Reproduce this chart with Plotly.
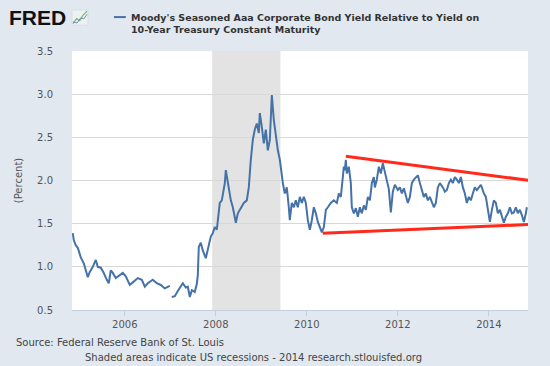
import plotly.graph_objects as go

# Decimal-year dates and spread values (percent)
years_a = [2004.857, 2004.879, 2004.923, 2004.967, 2005.033, 2005.099, 2005.143, 2005.187, 2005.231, 2005.297,
           2005.363, 2005.407, 2005.473, 2005.538, 2005.604, 2005.648, 2005.692, 2005.736, 2005.802, 2005.868,
           2005.956, 2006.022, 2006.110, 2006.176, 2006.286, 2006.374, 2006.440, 2006.505, 2006.615, 2006.703,
           2006.791, 2006.879, 2006.945, 2006.989]
vals_a = [1.39, 1.31, 1.25, 1.22, 1.11, 1.04, 0.96, 0.88, 0.94, 1.00,
          1.08, 1.00, 0.99, 0.93, 0.85, 0.81, 0.96, 0.93, 0.87, 0.90,
          0.93, 0.89, 0.79, 0.82, 0.87, 0.85, 0.77, 0.81, 0.85, 0.81,
          0.79, 0.75, 0.77, 0.78]

years_b = [2007.033, 2007.099, 2007.165, 2007.209, 2007.275, 2007.341, 2007.385, 2007.429, 2007.473, 2007.538,
           2007.582, 2007.604, 2007.626, 2007.670, 2007.714, 2007.780, 2007.824, 2007.890, 2007.934, 2007.978,
           2008.022, 2008.066, 2008.088, 2008.132, 2008.154, 2008.198, 2008.220, 2008.264, 2008.330, 2008.374,
           2008.440, 2008.484, 2008.549, 2008.615, 2008.681, 2008.725, 2008.769, 2008.813, 2008.857, 2008.901,
           2008.945, 2008.967, 2009.011, 2009.055, 2009.099, 2009.143, 2009.187, 2009.209, 2009.231, 2009.275,
           2009.319, 2009.363, 2009.407, 2009.451, 2009.473, 2009.516, 2009.560, 2009.604, 2009.626, 2009.670,
           2009.714, 2009.758, 2009.802, 2009.846, 2009.890, 2009.934, 2009.978, 2010.022, 2010.066, 2010.110,
           2010.154, 2010.198, 2010.242, 2010.286, 2010.330, 2010.374, 2010.418, 2010.462, 2010.527, 2010.593,
           2010.659, 2010.703, 2010.747, 2010.791, 2010.813, 2010.835, 2010.857, 2010.879, 2010.923, 2010.967,
           2010.989, 2011.033, 2011.077, 2011.121, 2011.165, 2011.209, 2011.253, 2011.297, 2011.341, 2011.385,
           2011.429, 2011.473, 2011.495, 2011.538, 2011.582, 2011.626, 2011.670, 2011.714, 2011.758, 2011.802,
           2011.846, 2011.890, 2011.934, 2012.000, 2012.044, 2012.088, 2012.132, 2012.176, 2012.220, 2012.264,
           2012.308, 2012.352, 2012.396, 2012.440, 2012.484, 2012.527, 2012.571, 2012.615, 2012.659, 2012.703,
           2012.747, 2012.791, 2012.835, 2012.879, 2012.923, 2012.989, 2013.033, 2013.077, 2013.121, 2013.165,
           2013.209, 2013.253, 2013.297, 2013.341, 2013.385, 2013.429, 2013.473, 2013.516, 2013.560, 2013.604,
           2013.648, 2013.692, 2013.736, 2013.780, 2013.824, 2013.846, 2013.890, 2013.934, 2013.978, 2014.022,
           2014.066, 2014.110, 2014.154, 2014.198, 2014.242, 2014.286, 2014.330, 2014.374, 2014.418, 2014.462,
           2014.505, 2014.549, 2014.593, 2014.637, 2014.681, 2014.725, 2014.769, 2014.813, 2014.835]
vals_b = [0.65, 0.66, 0.72, 0.76, 0.81, 0.76, 0.77, 0.65, 0.73, 0.71,
          0.80, 0.90, 1.23, 1.28, 1.19, 1.10, 1.19, 1.35, 1.39, 1.46,
          1.43, 1.62, 1.74, 1.77, 1.83, 1.97, 2.12, 1.97, 1.77, 1.69,
          1.51, 1.62, 1.68, 1.74, 1.77, 1.92, 2.24, 2.47, 2.59, 2.66,
          2.55, 2.78, 2.62, 2.43, 2.59, 2.35, 2.47, 2.78, 2.99, 2.70,
          2.50, 2.35, 2.24, 2.01, 1.97, 1.85, 1.92, 1.69, 1.54, 1.74,
          1.69, 1.77, 1.69, 1.81, 1.74, 1.81, 1.74, 1.54, 1.43, 1.54,
          1.69, 1.62, 1.52, 1.46, 1.40, 1.46, 1.66, 1.69, 1.74, 1.77,
          1.74, 1.85, 1.81, 2.04, 2.16, 2.12, 2.24, 2.08, 2.16, 1.97,
          1.69, 1.62, 1.68, 1.58, 1.69, 1.62, 1.71, 1.66, 1.81, 1.77,
          1.97, 2.04, 1.92, 2.01, 2.16, 2.08, 2.20, 2.10, 1.98, 1.90,
          1.63, 1.87, 1.95, 1.89, 1.92, 1.85, 1.91, 1.81, 1.74, 1.81,
          1.97, 2.01, 2.04, 2.06, 1.97, 1.89, 1.81, 1.85, 1.77, 1.81,
          1.74, 1.69, 1.74, 1.92, 1.97, 1.92, 1.87, 1.89, 1.97, 2.01,
          1.97, 2.04, 2.01, 1.97, 2.04, 1.92, 1.85, 1.74, 1.81, 1.77,
          1.85, 1.92, 1.89, 1.92, 1.95, 1.92, 1.85, 1.81, 1.66, 1.52,
          1.66, 1.77, 1.74, 1.62, 1.66, 1.58, 1.51, 1.58, 1.62, 1.69,
          1.62, 1.63, 1.69, 1.62, 1.66, 1.60, 1.52, 1.62, 1.69]

# Recession (Dec 2007 - Jun 2009)
recession = [2007.92, 2009.42]

# Hand-drawn red trend lines (start, end)
upper_x = [2010.857, 2014.90]
upper_y = [2.28, 2.00]
lower_x = [2010.35, 2014.90]
lower_y = [1.39, 1.49]

tick_years = [2006, 2008, 2010, 2012, 2014]
x_range = [2004.84, 2014.86]
y_range = [0.5, 3.5]
y_ticks = [0.5, 1.0, 1.5, 2.0, 2.5, 3.0, 3.5]

series_name = "Moody's Seasoned Aaa Corporate Bond Yield Relative to Yield on<br>10-Year Treasury Constant Maturity"

BG = "#e1e8f0"
LINE = "#4572a7"
FONT = "DejaVu Sans"

fig = go.Figure()

xs = years_a + [None] + years_b
ys = vals_a + [None] + vals_b
fig.add_trace(go.Scatter(x=xs, y=ys, mode="lines", line=dict(color=LINE, width=2),
                         connectgaps=False, showlegend=False, hoverinfo="skip"))
fig.add_trace(go.Scatter(x=upper_x, y=upper_y, mode="lines", line=dict(color="#ff2a1a", width=3),
                         showlegend=False, hoverinfo="skip"))
fig.add_trace(go.Scatter(x=lower_x, y=lower_y, mode="lines", line=dict(color="#ff2a1a", width=3),
                         showlegend=False, hoverinfo="skip"))

fig.add_shape(type="rect", xref="x", yref="paper", x0=recession[0], x1=recession[1], y0=0, y1=1,
              fillcolor="#e3e3e3", line=dict(width=0), layer="below")

# FRED logo
fig.add_annotation(xref="paper", yref="paper", x=-0.142, y=1.128, xanchor="left", yanchor="middle",
                   text="<b>FRED</b>", showarrow=False,
                   font=dict(family="Liberation Sans", size=21, color="#111111"))
# small icon next to logo
fig.add_shape(type="rect", xref="paper", yref="paper", x0=0.0, x1=0.035, y0=1.100, y1=1.158,
              fillcolor="#eef1f4", line=dict(color="#c9d0d8", width=0.5))
fig.add_shape(type="path", xref="paper", yref="paper",
              path="M 0.002 1.106 L 0.010 1.125 L 0.017 1.117 L 0.024 1.138 L 0.033 1.154",
              line=dict(color="#7bb661", width=1.2))
fig.add_shape(type="path", xref="paper", yref="paper",
              path="M 0.002 1.112 L 0.011 1.108 L 0.019 1.128 L 0.026 1.124 L 0.033 1.142",
              line=dict(color="#6d8fc0", width=1))

# legend-like header
fig.add_shape(type="line", xref="paper", yref="paper", x0=0.092, x1=0.118, y0=1.131, y1=1.131,
              line=dict(color=LINE, width=2))
fig.add_annotation(xref="paper", yref="paper", x=0.125, y=1.108, xanchor="left", yanchor="middle",
                   text="<b>" + series_name + "</b>", showarrow=False, align="left",
                   font=dict(family=FONT, size=9.5, color="#333333"))

# footer
fig.add_annotation(xref="paper", yref="paper", x=-0.127, y=-0.127, xanchor="left", yanchor="middle",
                   text="Source: Federal Reserve Bank of St. Louis", showarrow=False,
                   font=dict(family=FONT, size=10, color="#444444"))
fig.add_annotation(xref="paper", yref="paper", x=0.397, y=-0.185, xanchor="center", yanchor="middle",
                   text="Shaded areas indicate US recessions - 2014 research.stlouisfed.org", showarrow=False,
                   font=dict(family=FONT, size=10, color="#444444"))

fig.update_layout(
    width=550, height=366,
    margin=dict(l=72, r=22, t=51, b=56),
    paper_bgcolor=BG, plot_bgcolor="white",
    font=dict(family=FONT, size=10, color="#555555"),
    xaxis=dict(range=x_range, tickvals=tick_years, ticktext=[str(t) for t in tick_years],
               showgrid=False, zeroline=False, ticks="outside", ticklen=5, tickcolor="#c0d0e0",
               showline=True, linecolor="#c0d0e0", linewidth=1,
               tickfont=dict(family=FONT, size=10, color="#555555")),
    yaxis=dict(range=y_range, tickvals=y_ticks, ticktext=[f"{v:.1f}" for v in y_ticks],
               showgrid=True, gridcolor="#d8d8d8", gridwidth=1, zeroline=False,
               ticks="outside", ticklen=16, tickcolor="rgba(0,0,0,0)",
               title=dict(text="(Percent)", standoff=12, font=dict(family=FONT, size=10, color="#555555")),
               tickfont=dict(family=FONT, size=10, color="#555555")),
)

fig.write_html("out.html", config={"displayModeBar": False},
               post_script="document.body.style.margin='0';document.body.style.padding='0';")
